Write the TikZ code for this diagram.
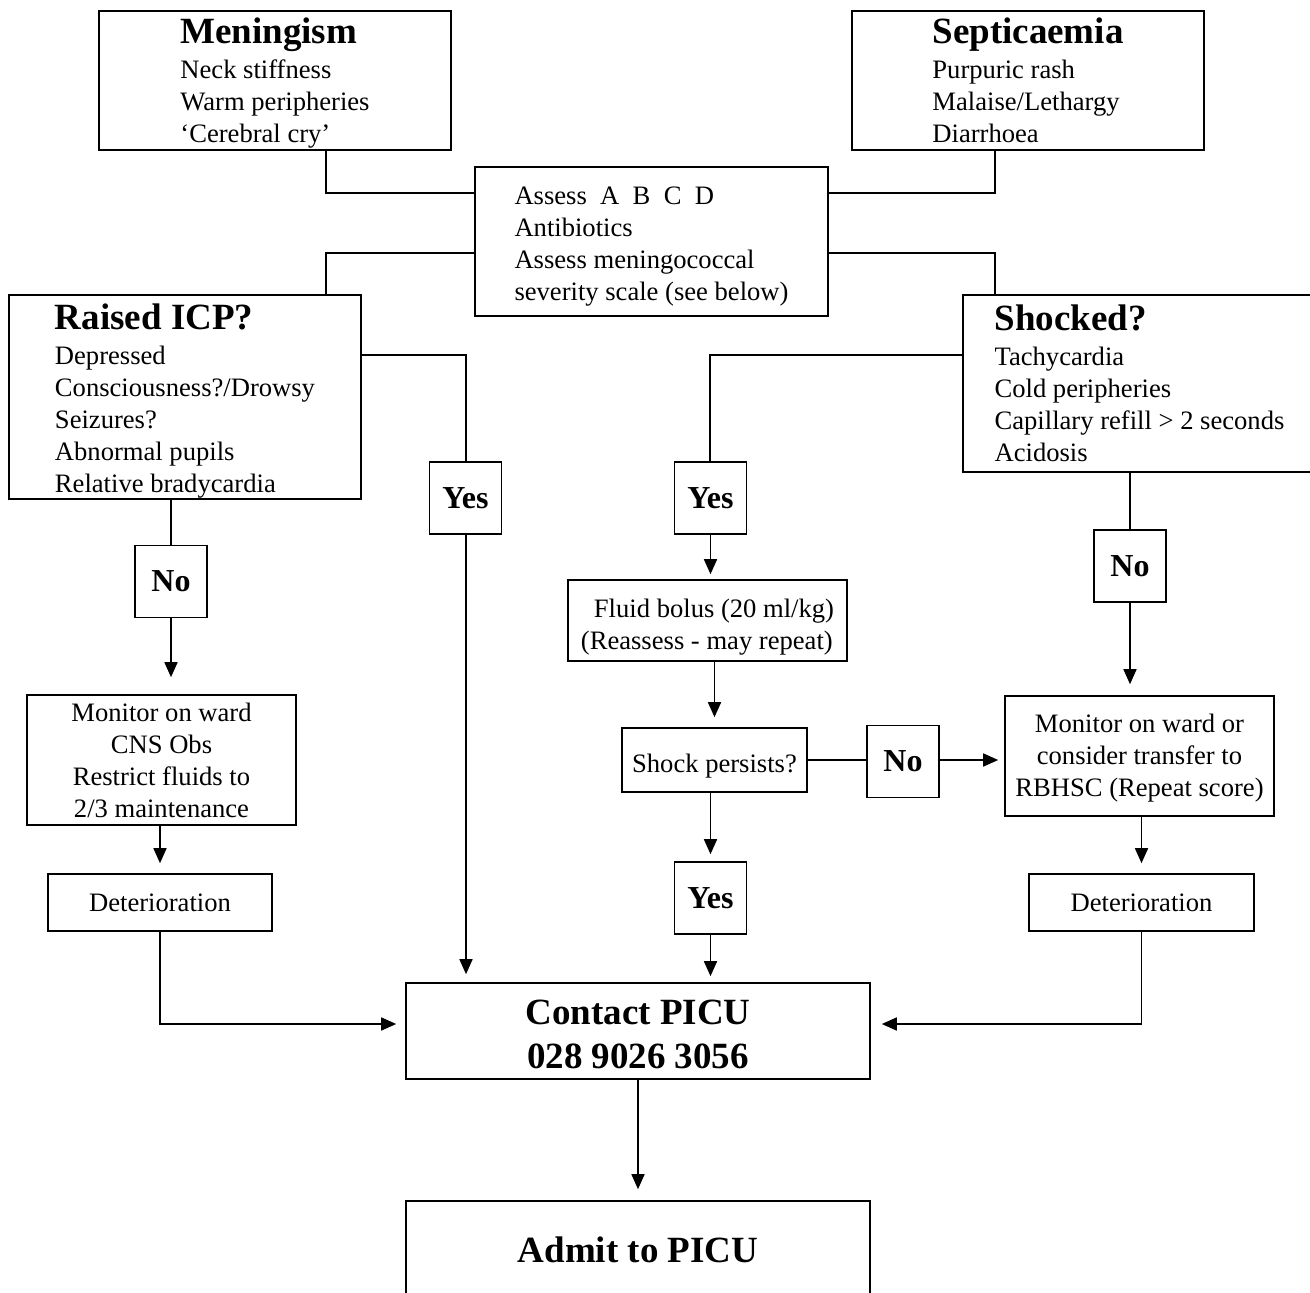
\documentclass[tikz,border=0pt]{standalone}
\usepackage{fontspec}
\setmainfont{Liberation Serif}
\usetikzlibrary{arrows.meta}
\newcommand\headtxt[1]{{\fontsize{37}{32}\selectfont\bfseries #1}}
\newcommand\topstrut[1]{\rule{0pt}{#1}}
\begin{document}
\begin{tikzpicture}[x=1pt,y=-1pt,
  flowbox/.style={draw, line width=1.6pt, inner sep=0pt, font=\fontsize{26.6}{32}\selectfont},
  leftbox/.style={flowbox, align=left},
  ctrbox/.style={flowbox, align=center},
  answerbox/.style={draw, line width=1.6pt, inner sep=0pt, minimum width=72pt, minimum height=72pt, font=\fontsize{32}{36}\selectfont\bfseries},
  bigbox/.style={draw, line width=1.6pt, inner sep=0pt, align=center, minimum width=464pt, font=\fontsize{37}{44}\selectfont\bfseries},
  link/.style={line width=1.6pt},
  arrowlink/.style={line width=1.6pt, -{Triangle[length=15pt,width=13pt]}},
]
\clip (0,0) rectangle (1310,1293);
\fill[white] (0,0) rectangle (1310,1293);

% boxes
\node[leftbox, minimum width=352pt, minimum height=139pt] (men) at (275,80.5)
  {\topstrut{30pt}\headtxt{Meningism}\\[3pt] Neck stiffness\\ Warm peripheries\\ ‘Cerebral cry’};
\node[leftbox, minimum width=352pt, minimum height=139pt] (sep) at (1028,80.5)
  {\headtxt{Septicaemia}\\[3pt] Purpuric rash\\ Malaise/Lethargy\\ Diarrhoea};
\node[leftbox, minimum width=353pt, minimum height=149pt] (assess) at (651.5,241.5)
  {\topstrut{27.6pt}Assess\ \ A\ \ B\ \ C\ \ D\\ Antibiotics\\ Assess meningococcal\\ severity scale (see below)};
\node[leftbox, minimum width=352pt, minimum height=204pt] (icp) at (185,397)
  {\topstrut{33pt}\headtxt{Raised ICP?}\\[3pt] Depressed\\ Consciousness?/Drowsy\\ Seizures?\\ Abnormal pupils\\ Relative bradycardia};
\node[leftbox, minimum width=353pt, minimum height=177pt] (shock) at (1139.5,383.5)
  {\headtxt{Shocked?}\\[3pt] Tachycardia\\ Cold peripheries\\ Capillary refill > 2 seconds\\ Acidosis};

\node[answerbox] (yes1) at (465.5,498) {Yes};
\node[answerbox] (no1) at (171,581.5) {No};
\node[answerbox] (yes2) at (710.5,498) {Yes};
\node[answerbox] (no2) at (1130,566) {No};
\node[answerbox] (no3) at (903,761.5) {No};
\node[answerbox] (yes3) at (710.5,898) {Yes};

\node[leftbox, minimum width=279pt, minimum height=81pt] (fluid) at (707.5,620.5)
  {\topstrut{32pt}\hspace*{13pt}Fluid bolus (20 ml/kg)\\ (Reassess - may repeat)};
\node[ctrbox, minimum width=185pt, minimum height=64pt] (persist) at (714.5,760) {\topstrut{30pt}Shock persists?};
\node[ctrbox, minimum width=269pt, minimum height=130pt] (mon1) at (161.5,760)
  {Monitor on ward\\ CNS Obs\\ Restrict fluids to\\ 2/3 maintenance};
\node[ctrbox, minimum width=269pt, minimum height=120pt] (mon2) at (1139.5,756)
  {\topstrut{22pt}Monitor on ward or\\ consider transfer to\\ RBHSC (Repeat score)};
\node[ctrbox, minimum width=224pt, minimum height=57pt] (det1) at (160,902.5) {Deterioration};
\node[ctrbox, minimum width=225pt, minimum height=57pt] (det2) at (1141.5,902.5) {Deterioration};

\node[bigbox, minimum height=96pt] (contact) at (638,1031) {\topstrut{31pt}Contact PICU\\ 028 9026 3056};
\node[bigbox, minimum height=98pt] (admit) at (638,1250) {Admit to PICU};

% bend points
\coordinate (k1) at (326,193);
\coordinate (k2) at (995,193);
\coordinate (k3) at (326,253);
\coordinate (k4) at (995,253);
\coordinate (k5) at (466,355);
\coordinate (k7) at (710,355);
\coordinate (k6) at (0,1024);

% connectors
\draw[link] (men.south -| k1) -- (k1) -- (assess.west |- k1);
\draw[link] (sep.south -| k2) -- (k2) -- (assess.east |- k2);
\draw[link] (assess.west |- k3) -- (k3) -- (icp.north -| k3);
\draw[link] (assess.east |- k4) -- (k4) -- (shock.north -| k4);
\draw[link] (icp.east |- k5) -- (k5) -- (yes1.north -| k5);
\draw[arrowlink, shorten >=8pt] (yes1.south -| k5) -- (contact.north -| k5);

\draw[link] (icp.south -| no1) -- (no1.north);
\draw[arrowlink, shorten >=17pt] (no1.south) -- (mon1.north -| no1);
\draw[arrowlink, shorten >=10pt] (mon1.south -| det1.north) -- (det1.north);
\draw[arrowlink, shorten >=9pt] (det1.south) |- (contact.west |- k6);

\draw[link] (shock.west |- k7) -- (k7) -- (yes2.north -| k7);
\draw[arrowlink, shorten >=5pt] (yes2.south) -- (fluid.north -| yes2);
\draw[arrowlink, shorten >=10pt] (fluid.south -| persist) -- (persist.north);
\draw[link] (persist.east) -- (no3.west |- persist.east);
\draw[arrowlink, shorten >=6pt] (no3.east |- persist.east) -- (mon2.west |- persist.east);
\draw[arrowlink, shorten >=7pt] (persist.south -| yes3) -- (yes3.north);
\draw[arrowlink, shorten >=6pt] (yes3.south) -- (contact.north -| yes3);

\draw[link] (shock.south -| no2) -- (no2.north);
\draw[arrowlink, shorten >=11pt] (no2.south) -- (mon2.north -| no2);
\draw[arrowlink, shorten >=10pt] (mon2.south -| det2) -- (det2.north);
\draw[arrowlink, shorten >=11pt] (det2.south) |- (contact.east |- k6);

\draw[arrowlink, shorten >=11pt] (contact.south) -- (admit.north);
\end{tikzpicture}
\end{document}
